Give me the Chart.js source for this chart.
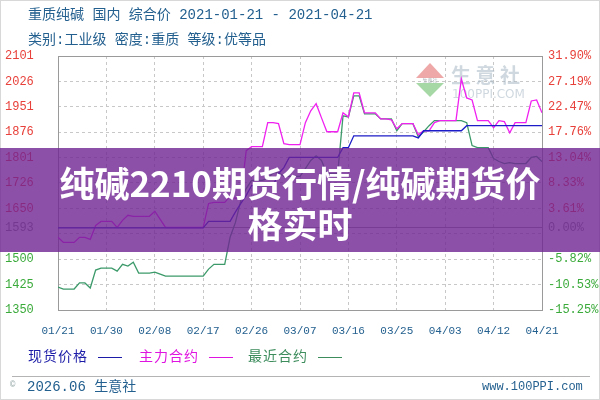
<!DOCTYPE html>
<html>
<head>
<meta charset="utf-8">
<script src="https://cdn.jsdelivr.net/npm/chart.js@4.4.1/dist/chart.umd.min.js"></script>
<style>
  body { margin: 0; background: #fff; }
  #wrap { position: relative; width: 600px; height: 400px; overflow: hidden; background: #fff;
          font-family: "Liberation Mono", "Noto Sans CJK SC", monospace; }
  #wrap canvas { position: absolute; left: 0; top: 0; }
  .txt { position: absolute; white-space: pre; line-height: 1; }
  .hd { left: 28px; font-size: 14px; color: #24608f; }
  .lg { top: 350px; font-size: 14px; letter-spacing: 1px; }
  .lgline { position: absolute; top: 357px; height: 1px; width: 24px; }
  #foot-line { position: absolute; left: 12px; top: 376px; width: 578px; height: 1px; background: #b4b4b4; }
  #frame { position: absolute; left: 0; top: 0; width: 598px; height: 398px; border: 1px solid #d8d8d8; }
  #banner { position: absolute; left: 0; top: 148px; width: 600px; height: 104px;
            background: rgba(112, 36, 148, 0.8); }
  #banner div { position: absolute; left: 0; top: 13px; width: 600px; text-align: center; color: #fff;
                font-family: "Noto Sans CJK SC", sans-serif; font-weight: 700; font-size: 35px; line-height: 41px; }
</style>
</head>
<body>
<div id="wrap">
  <canvas id="chart" width="600" height="400"></canvas>
  <div id="frame"></div>
  <div class="txt hd" style="top:8px">重质纯碱 国内 综合价 2021-01-21 - 2021-04-21</div>
  <div class="txt hd" style="top:33px">类别:工业级 密度:重质 等级:优等品</div>

  <div class="txt lg" style="left:28px;color:#1c1ca8">现货价格</div>
  <div class="lgline" style="left:98px;background:#1c1ca8"></div>
  <div class="txt lg" style="left:139px;color:#e014e0">主力合约</div>
  <div class="lgline" style="left:209px;background:#e014e0"></div>
  <div class="txt lg" style="left:248px;color:#3c8c5c">最近合约</div>
  <div class="lgline" style="left:318px;background:#3c8c5c"></div>

  <div id="foot-line"></div>
  <div class="txt" style="left:10px;top:381px;font-size:9px;color:#9aa">©</div>
  <div class="txt" style="left:27px;top:380px;font-size:14px;color:#24608f">2026.06 生意社</div>
  <div class="txt" style="left:482px;top:381px;font-size:12px;color:#24608f">www.100PPI.com</div>

  <div id="banner"><div>纯碱2210期货行情/纯碱期货价<br>格实时</div></div>
</div>

<script>
// x 轴刻度（自 2021-01-21 起的天数）和标签
const tickDays = [0, 9, 18, 27, 36, 45, 54, 63, 72, 81, 90];
const xLabels = ["01/21", "01/30", "02/08", "02/17", "02/26", "03/07", "03/16", "03/25", "04/03", "04/12", "04/21"];

// 左轴刻度（元/吨），1575 只画网格线
const yTicks = [1350, 1425, 1500, 1575, 1593, 1650, 1726, 1801, 1876, 1951, 2026, 2101];
// 右轴涨跌幅标签（相对 1593）
const pctTicks = [1350, 1425, 1500, 1593, 1650, 1726, 1801, 1876, 1951, 2026, 2101];
const pctLabels = ["-15.25%", "-10.53%", "-5.82%", "0.00%", "3.61%", "8.33%", "13.04%", "17.76%", "22.47%", "27.19%", "31.90%"];
const basePrice = 1593;

// 每日数据（非交易日沿用前值），01/21 到 04/21
const spotPrice = [
  1593, 1593, 1593, 1593, 1593, 1593, 1593, 1593, 1593, 1593,
  1593, 1593, 1593, 1593, 1593, 1593, 1593, 1593, 1593, 1593,
  1593, 1593, 1593, 1593, 1593, 1593, 1593, 1593, 1612, 1612,
  1612, 1612, 1612, 1640, 1665, 1689, 1718, 1718, 1718, 1718,
  1718, 1753, 1771, 1801, 1801, 1801, 1801, 1801, 1801, 1801,
  1801, 1801, 1801, 1830, 1830, 1865, 1865, 1865, 1865, 1865,
  1865, 1865, 1865, 1865, 1865, 1865, 1865, 1859, 1880, 1880,
  1880, 1880, 1880, 1880, 1880, 1880, 1895, 1895, 1895, 1895,
  1895, 1895, 1895, 1895, 1895, 1895, 1895, 1895, 1895, 1895,
  1895
];
const mainContract = [
  1565, 1550, 1550, 1550, 1565, 1565, 1559, 1600, 1612, 1612,
  1612, 1594, 1615, 1630, 1627, 1627, 1627, 1627, 1642, 1618,
  1594, 1594, 1594, 1594, 1594, 1594, 1594, 1594, 1665, 1668,
  1668, 1668, 1686, 1680, 1686, 1821, 1833, 1833, 1833, 1904,
  1904, 1901, 1842, 1839, 1839, 1839, 1904, 1939, 1960, 1918,
  1877, 1877, 1877, 1933, 1921, 1992, 1992, 1933, 1933, 1933,
  1915, 1915, 1912, 1886, 1901, 1901, 1901, 1868, 1880, 1880,
  1904, 1910, 1910, 1910, 1910, 2033, 1977, 1971, 1910, 1910,
  1910, 1889, 1910, 1907, 1874, 1904, 1904, 1904, 1968, 1971,
  1933
];
const nearContract = [
  1418, 1412, 1412, 1412, 1430, 1430, 1415, 1468, 1474, 1474,
  1474, 1465, 1485, 1480, 1491, 1459, 1459, 1459, 1462, 1456,
  1450, 1450, 1450, 1450, 1450, 1450, 1450, 1450, 1471, 1485,
  1485, 1485, 1565, 1609, 1674, 1709, 1733, 1733, 1733, 1739,
  1756, 1756, 1745, 1745, 1745, 1745, 1768, 1792, 1806, 1792,
  1753, 1753, 1753, 1924, 1921, 1983, 1983, 1930, 1930, 1930,
  1915, 1915, 1915, 1880, 1901, 1901, 1901, 1862, 1877, 1895,
  1910, 1910, 1910, 1910, 1910, 1910, 1904, 1836, 1830, 1830,
  1830, 1798, 1789, 1783, 1786, 1783, 1783, 1783, 1801, 1804,
  1789
];

const toPoints = arr => arr.map((v, i) => ({ x: i, y: v }));

const tickColor = v => v > basePrice ? "#e8403a" : (v < basePrice ? "#3aaa3a" : "#888888");
const tickFont = { family: "Liberation Mono", size: 12 };

// 画图区边框
const framePlugin = {
  id: "frame",
  beforeDatasetsDraw(chart) {
    const { ctx, chartArea: a } = chart;
    ctx.save();
    ctx.strokeStyle = "#9a9a9a";
    ctx.lineWidth = 1;
    ctx.strokeRect(Math.round(a.left) + 0.5, Math.round(a.top) + 0.5, Math.round(a.width), Math.round(a.height));
    ctx.restore();
  }
};

// 生意社水印
const watermarkPlugin = {
  id: "watermark",
  beforeDatasetsDraw(chart) {
    const ctx = chart.ctx;
    ctx.save();
    ctx.globalAlpha = 0.55;
    ctx.fillStyle = "#e06060";
    ctx.beginPath();
    ctx.moveTo(430, 63); ctx.lineTo(444, 78); ctx.lineTo(416, 78); ctx.closePath(); ctx.fill();
    ctx.fillStyle = "#5cb85c";
    ctx.beginPath();
    ctx.moveTo(416, 83); ctx.lineTo(444, 83); ctx.lineTo(430, 97); ctx.closePath(); ctx.fill();
    ctx.fillStyle = "#6a7a80";
    ctx.font = "5px 'Noto Sans CJK SC'";
    ctx.textAlign = "center";
    ctx.fillText("生意社", 430, 82);
    ctx.fillStyle = "#a8b8c4";
    ctx.textAlign = "left";
    ctx.font = "bold 20px 'Noto Sans CJK SC'";
    ctx.fillText("生 意 社", 451, 83);
    ctx.font = "12px 'DejaVu Sans'";
    ctx.fillText("100PPI.COM", 452, 98);
    ctx.restore();
  }
};

new Chart(document.getElementById("chart"), {
  type: "line",
  data: {
    datasets: [
      { label: "现货价格", data: toPoints(spotPrice), borderColor: "#1c1cc8", borderWidth: 1.3, pointRadius: 0, order: 1 },
      { label: "主力合约", data: toPoints(mainContract), borderColor: "#f020f0", borderWidth: 1.3, pointRadius: 0, order: 2 },
      { label: "最近合约", data: toPoints(nearContract), borderColor: "#3c9a6a", borderWidth: 1.3, pointRadius: 0, order: 3 }
    ]
  },
  options: {
    responsive: false,
    animation: false,
    events: [],
    layout: { padding: { top: 56, left: 5, right: 0, bottom: 0 } },
    plugins: { legend: { display: false }, tooltip: { enabled: false } },
    scales: {
      x: {
        type: "linear", min: 0, max: 90,
        afterBuildTicks: s => { s.ticks = tickDays.map(v => ({ value: v })); },
        afterFit: s => { s.height = 90; },
        ticks: {
          autoSkip: false, maxRotation: 0, padding: 14,
          color: "#24608f", font: { family: "Liberation Mono", size: 11 },
          callback: (v, i) => xLabels[i]
        },
        grid: { color: "#c8c8c8", drawTicks: false },
        border: { display: false, dash: [3, 3] }
      },
      y: {
        position: "left", min: 1350, max: 2101,
        afterBuildTicks: s => { s.ticks = yTicks.map(v => ({ value: v })); },
        afterFit: s => { s.width = 53; },
        ticks: {
          crossAlign: "far", padding: 0, font: tickFont,
          color: c => tickColor(c.tick.value),
          callback: v => (v === 1575 ? "" : String(v))
        },
        grid: {
          drawTicks: false,
          color: c => (c.tick && c.tick.value === basePrice ? "#9a9a9a" : "#c8c8c8")
        },
        border: {
          display: false,
          dash: c => (c.tick && c.tick.value === basePrice ? [] : [3, 3])
        }
      },
      y2: {
        position: "right", min: 1350, max: 2101,
        afterBuildTicks: s => { s.ticks = pctTicks.map(v => ({ value: v })); },
        afterFit: s => { s.width = 58; },
        ticks: {
          padding: 6, font: tickFont,
          color: c => tickColor(c.tick.value),
          callback: (v, i) => pctLabels[i]
        },
        grid: { drawOnChartArea: false, drawTicks: false },
        border: { display: false }
      }
    }
  },
  plugins: [framePlugin, watermarkPlugin]
});
</script>
</body>
</html>
